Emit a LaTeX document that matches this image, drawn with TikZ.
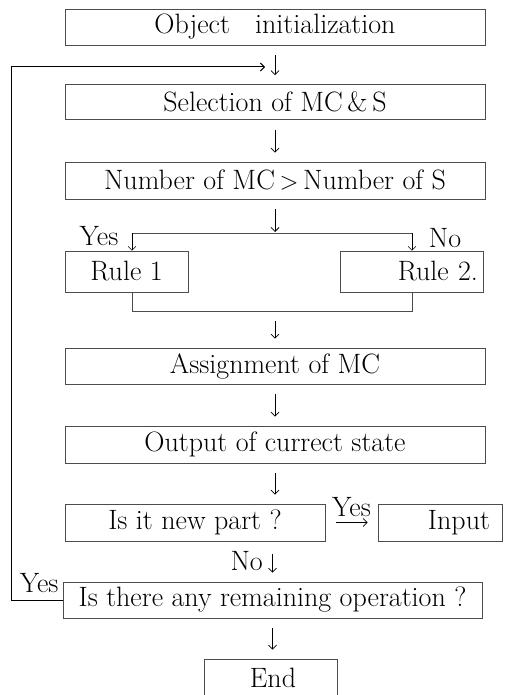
\documentclass[tikz,border=0pt]{standalone}
\usepackage{tikz}
\usetikzlibrary{arrows.meta}

\begin{document}
\begin{tikzpicture}[x=1pt,y=-1pt,>={Straight Barb[length=4pt,width=8pt]},
    font=\fontsize{28}{33}\selectfont,
    box/.style={draw=black!70,line width=0.6pt,inner sep=0pt,minimum height=36pt},
    flow/.style={->,line width=0.8pt,shorten <=10pt,shorten >=9pt},
    wire/.style={draw=black!70,line width=0.6pt},
    back/.style={->,line width=1pt}]
  \useasboundingbox (0,0) rectangle (511,695);
  \clip (0,0) rectangle (511,695);
  % main column
  \node[box,minimum width=420pt] (init) at (275,27) {Object\hspace{0.9em}initialization};
  \node[box,minimum width=420pt,minimum height=35pt] (sel) at (275,102) {Selection of MC\,\&\,S};
  \node[box,minimum width=420pt,minimum height=37pt] (num) at (275,180.5) {Number of MC\,$>$\,Number of S};
  \node[box,minimum width=123pt,minimum height=41pt] (rule1) at (126.5,271.5) {Rule 1};
  \node[box,text width=133pt,inner xsep=5pt,align=right,minimum height=41pt] (rule2) at (411.5,271.5) {Rule 2.};
  \node[box,minimum width=420pt] (asg) at (275,366) {Assignment of MC};
  \node[box,minimum width=420pt,minimum height=37pt] (out) at (275,444.5) {Output of currect state};
  \node[box,minimum width=260pt,minimum height=37pt] (new) at (195,522.5) {Is it new part ?};
  \node[box,text width=100pt,inner xsep=12pt,align=right,minimum height=37pt] (inp) at (440,522.5) {Input};
  \node[box,minimum width=419pt] (there) at (272.5,600) {Is there any remaining operation ?};
  \node[box,minimum width=133pt,minimum height=62pt] (end) at (270.5,690) {};
  \node (endtxt) at (273,678) {End};
  % branch to the rules
  \coordinate (split) at (275,233);
  \coordinate (left) at (132,233);
  \coordinate (right) at (412,233);
  \coordinate (join) at (275,311);
  \coordinate (loopend) at (265,67);
  \node (yes1) at (99,236) {Yes};
  \node (no1) at (445,238) {No};
  \draw[flow] (init) -- (sel);
  \draw[flow] (sel) -- (num);
  \draw[flow,shorten >=1pt] (num) -- (split);
  \draw[wire] (left) -- (right);
  \draw[->,line width=0.6pt] (left) -- (left |- rule1.north);
  \draw[->,line width=0.6pt] (right) -- (right |- rule2.north);
  \draw[wire] (left |- rule1.south) -- (left |- join) -- (right |- join) -- (right |- rule2.south);
  \draw[flow] (join) -- (asg);
  \draw[flow] (asg) -- (out);
  \draw[flow] (out) -- (out.south |- new.north);
  \draw[flow,shorten <=11pt,shorten >=10pt] (new) -- node[above=4pt,inner sep=1pt] (yes2) {Yes} (inp);
  \draw[flow,shorten <=13pt] (there.north |- new.south) -- node[left,xshift=-6pt] (no2) {No} (there.north);
  \draw[flow] (there.south) -- (there.south |- end.north);
  % loop back
  \draw[back] (there.west) -- ++(-51,0) |- (loopend);
  \node[anchor=south east,inner sep=4pt,yshift=3pt] (yes3) at (there.west) {Yes};
\end{tikzpicture}
\end{document}
